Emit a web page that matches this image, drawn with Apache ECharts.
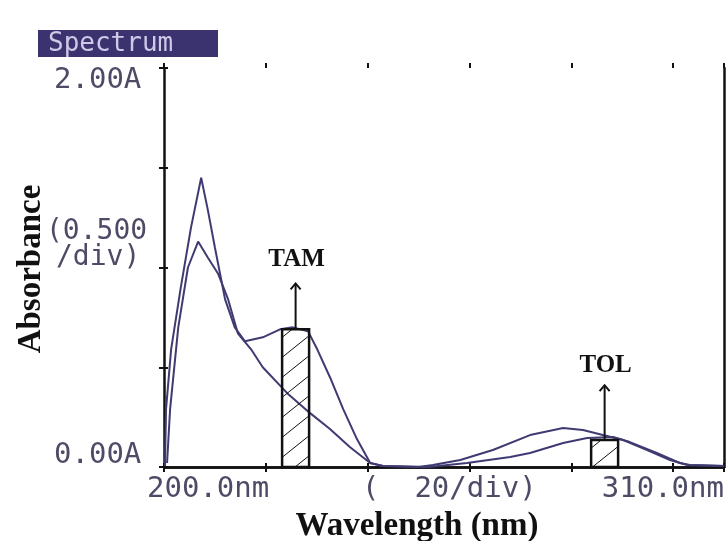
<!DOCTYPE html>
<html><head><meta charset="utf-8">
<script src="https://cdn.jsdelivr.net/npm/echarts@6/dist/echarts.min.js"></script>
<style>html,body{margin:0;padding:0;background:#fff}#c{width:726px;height:541px}</style>
</head><body><div id="c"></div>
<script>
// ---- data ----
const wavelengthA = [200.2,200.4,201.4,203.3,205.3,207.3,208.6,210.0,212.0,213.9,215.9,219.4,222.8,225.3,228.3,230.1,232.6,235.2,237.9,240.5,243.0,250.0,252.8,258.2,264.6,271.9,278.4,282.3,286.2,290.2,294.9,299.4,302.8,310.0];
const absorbanceA = [0.005,0.29,0.59,0.90,1.20,1.45,1.29,1.10,0.84,0.70,0.63,0.65,0.69,0.70,0.68,0.59,0.45,0.29,0.14,0.02,0.005,0.0,0.01,0.035,0.085,0.16,0.195,0.185,0.16,0.135,0.085,0.035,0.01,0.005];
const wavelengthB = [200.6,201.2,202.8,204.7,206.7,208.6,210.6,212.6,214.5,217.1,219.4,224.2,228.7,232.6,236.5,240.5,243.0,252.0,259.5,268.0,271.9,278.4,283.1,288.2,291.5,296.8,301.3,303.3,310.0];
const absorbanceB = [0.02,0.29,0.70,1.00,1.13,1.05,0.97,0.84,0.67,0.59,0.50,0.37,0.27,0.19,0.10,0.02,0.005,0.0,0.02,0.05,0.07,0.12,0.145,0.15,0.125,0.07,0.02,0.01,0.005];

const bandLabels = ['TAM','TOL'];
const bandStart = [223.2, 283.9];
const bandEnd = [228.5, 289.2];
const bandTop = [0.69, 0.135];
const arrowTip = [0.92, 0.41];
const labelLevel = [1.04, 0.51];

const xTickLabels = ['200.0nm', '(  20/div)', '310.0nm'];
const yTickLabels = ['2.00A', '(0.500', '/div)', '0.00A'];
const titleText = 'Spectrum';
const xName = 'Wavelength (nm)';
const yName = 'Absorbance';

const zip = (a, b) => a.map((v, i) => [v, b[i]]);
const bandData = bandLabels.map((n, i) => [bandStart[i], bandEnd[i], bandTop[i], arrowTip[i], labelLevel[i], n]);

const ink = '#111';
const curve = '#3f3b72';
const mono = '"DejaVu Sans Mono", monospace';
const tickColor = '#4d4b66';

function hatchLines(xl, xr, yt, yb) {
  const s = 0.8, step = 20, w = xr - xl;
  const out = [];
  for (let k = yt + 8; k < yb + s * w; k += step) {
    let u0 = Math.max(0, (k - yb) / s), u1 = Math.min(w, (k - yt) / s);
    if (u1 <= u0) continue;
    out.push({type: 'line', shape: {x1: xl + u0, y1: k - s * u0, x2: xl + u1, y2: k - s * u1},
      style: {stroke: ink, lineWidth: 1}});
  }
  return out;
}

const chart = echarts.init(document.getElementById('c'), null, {renderer: 'canvas'});
const baseX = {type: 'value', min: 200, max: 310, interval: 20, splitLine: {show: false}, axisLabel: {show: false}};
const baseY = {type: 'value', min: 0, max: 2, interval: 0.5, splitLine: {show: false}, axisLabel: {show: false}};
chart.setOption({
  backgroundColor: '#fff',
  animation: false,
  grid: {left: 164, top: 68, right: 2, bottom: 74},
  xAxis: [
    Object.assign({}, baseX, {position: 'bottom', axisLine: {show: true, lineStyle: {color: ink, width: 2.5}}, axisTick: {show: true, inside: false, length: 4, lineStyle: {color: ink, width: 2}}}),
    Object.assign({}, baseX, {position: 'bottom', axisLine: {show: false}, axisTick: {show: true, inside: true, length: 4, lineStyle: {color: ink, width: 2}}}),
    Object.assign({}, baseX, {position: 'top', axisLine: {show: true, lineStyle: {color: ink, width: 2.5}}, axisTick: {show: true, inside: true, length: 5, lineStyle: {color: ink, width: 2}}}),
    Object.assign({}, baseX, {position: 'top', axisLine: {show: false}, axisTick: {show: true, inside: false, length: 5, lineStyle: {color: ink, width: 2}}})
  ],
  yAxis: [
    Object.assign({}, baseY, {position: 'left', axisLine: {show: true, lineStyle: {color: ink, width: 2.5}}, axisTick: {show: true, inside: false, length: 5, lineStyle: {color: ink, width: 2}}}),
    Object.assign({}, baseY, {position: 'left', axisLine: {show: false}, axisTick: {show: true, inside: true, length: 4, lineStyle: {color: ink, width: 2}}}),
    Object.assign({}, baseY, {position: 'right', axisLine: {show: true, lineStyle: {color: ink, width: 2.5}}, axisTick: {show: false}})
  ],
  series: [
    {type: 'line', data: zip(wavelengthA, absorbanceA), showSymbol: false, lineStyle: {color: curve, width: 2}, z: 3},
    {type: 'line', data: zip(wavelengthB, absorbanceB), showSymbol: false, lineStyle: {color: curve, width: 2}, z: 3},
    {type: 'custom', data: bandData, z: 4,
      renderItem: function (params, api) {
        const p0 = api.coord([api.value(0), api.value(2)]);
        const p1 = api.coord([api.value(1), 0]);
        const xl = p0[0], xr = p1[0], yt = p0[1], yb = p1[1];
        const xc = (xl + xr) / 2;
        const tip = api.coord([0, api.value(3)])[1];
        const lab = api.coord([0, api.value(4)])[1];
        const children = hatchLines(xl, xr, yt, yb);
        children.push({type: 'rect', shape: {x: xl, y: yt, width: xr - xl, height: yb - yt}, style: {fill: 'none', stroke: ink, lineWidth: 2.5}});
        children.push({type: 'line', shape: {x1: xc, y1: yt, x2: xc, y2: tip}, style: {stroke: ink, lineWidth: 2}});
        children.push({type: 'polyline', shape: {points: [[xc - 5, tip + 6], [xc, tip], [xc + 5, tip + 6]]}, style: {stroke: ink, lineWidth: 2, fill: 'none'}});
        children.push({type: 'text', x: xc + 1, y: lab, style: {text: bandLabels[params.dataIndex], font: 'bold 25px "Liberation Serif", serif', fill: ink, align: 'center', verticalAlign: 'middle'}});
        return {type: 'group', children: children};
      }
    }
  ],
  graphic: [
    {type: 'rect', left: 38, top: 30, shape: {width: 180, height: 27}, style: {fill: '#3b3370'}},
    {type: 'text', left: 48, top: 31, style: {text: titleText, font: '26px ' + mono, fill: '#cfc8e6'}},
    {type: 'text', x: 54, y: 80, style: {text: yTickLabels[0], font: '29px ' + mono, fill: tickColor, verticalAlign: 'middle'}},
    {type: 'text', x: 46, y: 232, style: {text: yTickLabels[1], font: '28px ' + mono, fill: tickColor, verticalAlign: 'middle'}},
    {type: 'text', x: 56, y: 258, style: {text: yTickLabels[2], font: '28px ' + mono, fill: tickColor, verticalAlign: 'middle'}},
    {type: 'text', x: 54, y: 455, style: {text: yTickLabels[3], font: '29px ' + mono, fill: tickColor, verticalAlign: 'middle'}},
    {type: 'text', x: 147, y: 489, style: {text: xTickLabels[0], font: '29px ' + mono, fill: tickColor, verticalAlign: 'middle'}},
    {type: 'text', x: 362, y: 489, style: {text: xTickLabels[1], font: '29px ' + mono, fill: tickColor, verticalAlign: 'middle'}},
    {type: 'text', x: 724, y: 489, style: {text: xTickLabels[2], font: '29px ' + mono, fill: tickColor, align: 'right', verticalAlign: 'middle'}},
    {type: 'text', x: 417, y: 526, style: {text: xName, font: 'bold 33px "Liberation Serif", serif', fill: ink, align: 'center', verticalAlign: 'middle'}},
    {type: 'text', x: 31, y: 269, rotation: Math.PI / 2, style: {text: yName, font: 'bold 33px "Liberation Serif", serif', fill: ink, align: 'center', verticalAlign: 'middle'}}
  ]
});
</script>
</body></html>
